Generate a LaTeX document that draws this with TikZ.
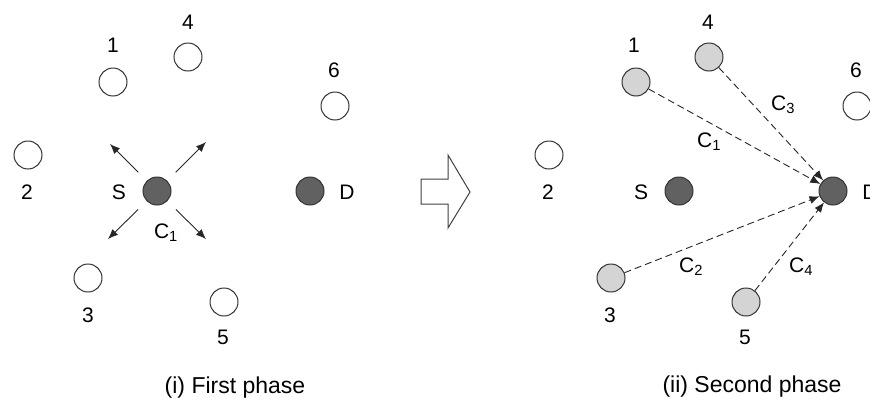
\documentclass[tikz,border=0pt]{standalone}
\usepackage{fontspec}
\setmainfont{Liberation Sans}
\usetikzlibrary{arrows.meta}
\tikzset{
  station/.style={circle, draw=black!80, line width=1pt, minimum size=28pt, inner sep=0pt, fill=white},
  busy/.style={station, fill=black!62},
  relay/.style={station, fill=black!17},
  tag/.style={font=\fontsize{21}{21}\selectfont, inner sep=0pt},
  caption/.style={font=\fontsize{23}{23}\selectfont, inner sep=0pt},
  burst/.style={-{Latex[length=10pt,width=8pt]}, line width=0.9pt, black!85},
  relayline/.style={burst, dash pattern=on 7pt off 4pt},
  bigarrow/.style={draw=black!75, line width=1pt, fill=white, line join=miter},
}
\begin{document}
\begin{tikzpicture}[x=1pt,y=-1pt]
  \clip (0,0) rectangle (870,402);
  \fill[white] (0,0) rectangle (870,402);

  % ---------- first phase: S broadcasts ----------
  \node[station] (a1) at (113,82) {};
  \node[station] (a4) at (188,57) {};
  \node[station] (a6) at (335,106) {};
  \node[station] (a2) at (28,155) {};
  \node[busy]    (aS) at (157,191) {};
  \node[busy]    (aD) at (310,191) {};
  \node[station] (a3) at (88,278) {};
  \node[station] (a5) at (224,302) {};

  \node[tag] (ta1) at (113,45) {1};
  \node[tag] (ta4) at (188,22) {4};
  \node[tag] (ta6) at (334,70) {6};
  \node[tag] (ta2) at (27,192) {2};
  \node[tag] (taS) at (119,192) {S};
  \node[tag] (taD) at (347,192) {D};
  \node[tag] (taC) at (166,233) {C\textsubscript{1}};
  \node[tag] (ta3) at (88,315) {3};
  \node[tag] (ta5) at (223,337) {5};
  \node[caption] (capA) at (235,388) {(i) First phase};

  \coordinate (nw) at (110,144);
  \coordinate (ne) at (206,142);
  \coordinate (sw) at (108,239);
  \coordinate (se) at (206,239);
  \foreach \dir in {nw,ne,sw,se}
    \draw[burst, shorten <=12pt] (aS) -- (\dir);

  % ---------- transition arrow ----------
  \draw[bigarrow] (421,179) -- (448,179) -- (448,155) -- (470,192)
                  -- (448,228) -- (448,204) -- (421,204) -- cycle;

  % ---------- second phase: relays forward to D ----------
  \node[relay]   (b1) at (636,82) {};
  \node[relay]   (b4) at (709,57) {};
  \node[station] (b6) at (857,106) {};
  \node[station] (b2) at (549,155) {};
  \node[busy]    (bS) at (679,191) {};
  \node[busy]    (bD) at (833,191) {};
  \node[relay]   (b3) at (611,278) {};
  \node[relay]   (b5) at (746,302) {};

  \node[tag] (tb1) at (634,45) {1};
  \node[tag] (tb4) at (708,22) {4};
  \node[tag] (tb6) at (856,70) {6};
  \node[tag] (tb2) at (548,192) {2};
  \node[tag] (tbS) at (641,192) {S};
  \node[tag] (tbD) at (870,192) {D};
  \node[tag] (tbC1) at (709,142) {C\textsubscript{1}};
  \node[tag] (tbC3) at (783,105) {C\textsubscript{3}};
  \node[tag] (tbC2) at (691,267) {C\textsubscript{2}};
  \node[tag] (tbC4) at (801,267) {C\textsubscript{4}};
  \node[tag] (tb3) at (610,315) {3};
  \node[tag] (tb5) at (745,337) {5};
  \node[caption] (capB) at (752,387) {(ii) Second phase};

  \foreach \src in {b1,b4,b3,b5}
    \draw[relayline] (\src) -- (bD);
\end{tikzpicture}
\end{document}
